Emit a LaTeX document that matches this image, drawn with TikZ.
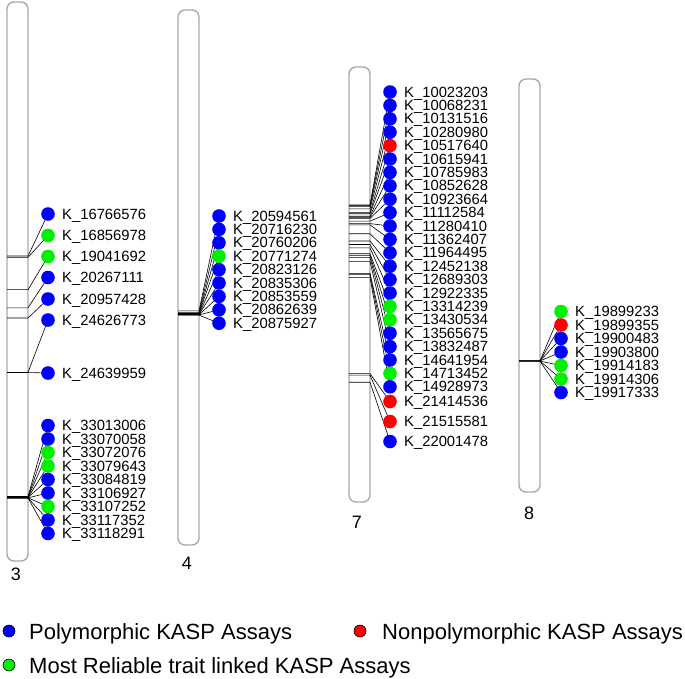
\documentclass[tikz,border=0pt]{standalone}
\usepackage{fontspec}
\setmainfont{Liberation Sans}
\definecolor{chromgray}{RGB}{170,170,170}
\definecolor{kblue}{RGB}{0,0,255}
\definecolor{kgreen}{RGB}{0,240,0}
\definecolor{kred}{RGB}{255,0,0}
\pgfdeclarelayer{back}
\pgfdeclarelayer{bg}
\pgfsetlayers{back,bg,main}
\newcommand\kaspmark[5]{% name, colour, Mb, dot y, label
  \coordinate (#1l) at (\kxL,{\kyb+(#3-\kmb)*14.8});
  \coordinate (#1r) at (\kxR,{\kyb+(#3-\kmb)*14.8});
  \node[kdot,fill=#2] (#1) at (\kdx,#4) {};
  \begin{pgfonlayer}{bg}
    \draw[link] (#1l) -- (#1r) -- (#1.center);
  \end{pgfonlayer}
  \node[lab] (#1t) at (\kdx+14,#4+5) {K\_#5};
}
\begin{document}
\begin{tikzpicture}[x=1pt,y=-1pt,
  chrom/.style={draw=chromgray,line width=1.4pt,fill=white,rounded corners=7pt},
  link/.style={draw=black,line width=0.6pt},
  kdot/.style={circle,inner sep=0pt,minimum size=13.6pt},
  lab/.style={anchor=base west,inner sep=0pt,font=\fontsize{14.8}{14.8}\selectfont},
  chlab/.style={inner sep=0pt,font=\fontsize{18}{18}\selectfont},
  legdot/.style={circle,inner sep=0pt,minimum size=12pt,draw=black,line width=0.6pt},
  legtxt/.style={anchor=base west,inner sep=0pt,font=\fontsize{22}{22}\selectfont}]
\useasboundingbox (0,0) rectangle (685,678);
\begin{pgfonlayer}{back}
\fill[white] (0,0) rectangle (685,678);
\draw[chrom] (7,2) rectangle (28,561);
\draw[chrom] (178,10) rectangle (199,545);
\draw[chrom] (349,67) rectangle (370,502);
\draw[chrom] (519,79) rectangle (540,492);
\end{pgfonlayer}
\node[chlab] (l3) at (16,574) {3};
\node[chlab] (l4) at (187,563) {4};
\node[chlab] (l7) at (357,522) {7};
\node[chlab] (l8) at (529,513) {8};

% chromosome 3
\def\kxL{7}\def\kxR{28}\def\kdx{48}\def\kyb{256}\def\kmb{16.767}
\kaspmark{a1}{kblue}{16.767}{214}{16766576}
\kaspmark{a2}{kgreen}{16.857}{235.5}{16856978}
\kaspmark{a3}{kgreen}{19.042}{256.5}{19041692}
\kaspmark{a4}{kblue}{20.267}{277.5}{20267111}
\kaspmark{a5}{kblue}{20.957}{299}{20957428}
\kaspmark{a6}{kblue}{24.627}{320}{24626773}
\kaspmark{a7}{kblue}{24.640}{373}{24639959}
\kaspmark{b1}{kblue}{33.013}{425.5}{33013006}
\kaspmark{b2}{kblue}{33.070}{439}{33070058}
\kaspmark{b3}{kgreen}{33.072}{452.5}{33072076}
\kaspmark{b4}{kgreen}{33.080}{466}{33079643}
\kaspmark{b5}{kblue}{33.085}{479.5}{33084819}
\kaspmark{b6}{kblue}{33.107}{493}{33106927}
\kaspmark{b7}{kgreen}{33.107}{506.5}{33107252}
\kaspmark{b8}{kblue}{33.117}{520}{33117352}
\kaspmark{b9}{kblue}{33.118}{533.5}{33118291}

% chromosome 4
\def\kxL{178}\def\kxR{199}\def\kdx{219}\def\kyb{313}\def\kmb{20.735}
\kaspmark{c1}{kblue}{20.595}{216}{20594561}
\kaspmark{c2}{kblue}{20.716}{229.4}{20716230}
\kaspmark{c3}{kblue}{20.760}{242.8}{20760206}
\kaspmark{c4}{kgreen}{20.771}{256.2}{20771274}
\kaspmark{c5}{kblue}{20.823}{269.6}{20823126}
\kaspmark{c6}{kblue}{20.835}{283}{20835306}
\kaspmark{c7}{kblue}{20.854}{296.4}{20853559}
\kaspmark{c8}{kblue}{20.863}{309.8}{20862639}
\kaspmark{c9}{kblue}{20.876}{323.2}{20875927}

% chromosome 7
\def\kxL{349}\def\kxR{370}\def\kdx{390}\def\kyb{205}\def\kmb{10.023}
\kaspmark{d1}{kblue}{10.023}{92}{10023203}
\kaspmark{d2}{kblue}{10.068}{105.4}{10068231}
\kaspmark{d3}{kblue}{10.132}{118.8}{10131516}
\kaspmark{d4}{kblue}{10.281}{132.2}{10280980}
\kaspmark{d5}{kred}{10.518}{145.6}{10517640}
\kaspmark{d6}{kblue}{10.616}{159}{10615941}
\kaspmark{d7}{kblue}{10.786}{172.4}{10785983}
\kaspmark{d8}{kblue}{10.853}{185.8}{10852628}
\kaspmark{d9}{kblue}{10.924}{199.2}{10923664}
\kaspmark{d10}{kblue}{11.113}{212.6}{11112584}
\kaspmark{d11}{kblue}{11.280}{226}{11280410}
\kaspmark{d12}{kblue}{11.362}{239.4}{11362407}
\kaspmark{d13}{kblue}{11.964}{252.8}{11964495}
\kaspmark{d14}{kblue}{12.452}{266.2}{12452138}
\kaspmark{d15}{kblue}{12.689}{279.6}{12689303}
\kaspmark{d16}{kblue}{12.922}{293}{12922335}
\kaspmark{d17}{kgreen}{13.314}{306.4}{13314239}
\kaspmark{d18}{kgreen}{13.431}{319.8}{13430534}
\kaspmark{d19}{kblue}{13.566}{333.2}{13565675}
\kaspmark{d20}{kblue}{13.832}{346.6}{13832487}
\kaspmark{d21}{kblue}{14.642}{360}{14641954}
\kaspmark{d22}{kgreen}{14.713}{373.4}{14713452}
\kaspmark{d23}{kblue}{14.929}{386.8}{14928973}
\kaspmark{d24}{kred}{21.415}{401.5}{21414536}
\kaspmark{d25}{kred}{21.516}{421.5}{21515581}
\kaspmark{d26}{kblue}{22.001}{441.5}{22001478}

% chromosome 8
\def\kxL{519}\def\kxR{540}\def\kdx{561}\def\kyb{361}\def\kmb{19.908}
\kaspmark{e1}{kgreen}{19.899}{311.5}{19899233}
\kaspmark{e2}{kred}{19.899}{325}{19899355}
\kaspmark{e3}{kblue}{19.900}{338.5}{19900483}
\kaspmark{e4}{kblue}{19.904}{352}{19903800}
\kaspmark{e5}{kgreen}{19.914}{365.5}{19914183}
\kaspmark{e6}{kgreen}{19.914}{379}{19914306}
\kaspmark{e7}{kblue}{19.917}{392.5}{19917333}

% legend
\node[legdot,fill=kblue] (g1) at (9,631) {};
\node[legtxt] (g1t) at (29,639) {Polymorphic KASP Assays};
\node[legdot,fill=kred] (g2) at (360,631) {};
\node[legtxt] (g2t) at (382,639) {Nonpolymorphic KASP Assays};
\node[legdot,fill=kgreen] (g3) at (9,665) {};
\node[legtxt] (g3t) at (29,673) {Most Reliable trait linked KASP Assays};
\end{tikzpicture}
\end{document}
